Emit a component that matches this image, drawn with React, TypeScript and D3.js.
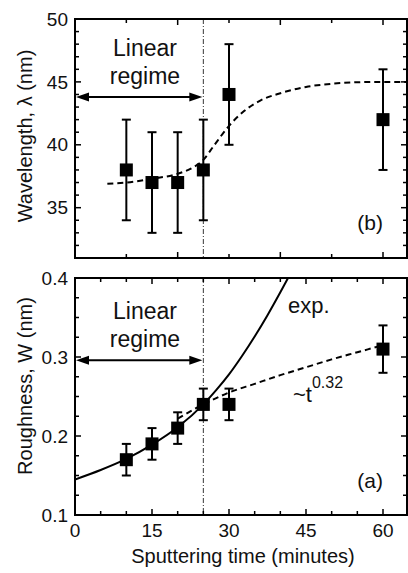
import React from 'react';
import * as d3 from 'd3';

// measured points (sputtering time, minutes)
const times = [10, 15, 20, 25, 30, 60];

// panel (b): wavelength
const wavelength = [38, 37, 37, 38, 44, 42];
const wavelengthLo = [34, 33, 33, 34, 40, 38];
const wavelengthHi = [42, 41, 41, 42, 48, 46];

// panel (a): roughness
const roughness = [0.17, 0.19, 0.21, 0.24, 0.24, 0.31];
const roughnessLo = [0.15, 0.17, 0.19, 0.22, 0.22, 0.28];
const roughnessHi = [0.19, 0.21, 0.23, 0.26, 0.26, 0.34];

// guide curves
const sigT = [6.3, 10, 15, 20, 23, 25, 27, 30, 33, 36, 40, 45, 50, 55, 60, 65];
const sigL = [36.9, 37.0, 37.3, 37.7, 38.2, 38.8, 39.9, 41.5, 42.7, 43.5, 44.1, 44.6, 44.85, 44.97, 45, 45];

const expT = [0, 5, 10, 15, 20, 25, 27.5, 30, 32.5, 35, 37.5, 40, 41.5];
const expW = [0.145, 0.157, 0.171, 0.189, 0.211, 0.24, 0.258, 0.278, 0.301, 0.326, 0.353, 0.382, 0.4];

const powT = [20, 25, 30, 35, 40, 45, 50, 55, 60];
const powW = [0.222, 0.24, 0.255, 0.266, 0.277, 0.287, 0.297, 0.306, 0.315];

const xTickLabels = [0, 15, 30, 45, 60];
const topYTickLabels = [35, 40, 45, 50];
const botYTickLabels = [0.1, 0.2, 0.3, 0.4];

const FONT = '"Liberation Sans", Arial, sans-serif';

export default function App() {
  const W = 408, H = 573;
  const left = 75, right = 407;
  const top1 = 19, bot1 = 258;
  const top2 = 278, bot2 = 515;

  const x = d3.scaleLinear().domain([0, 65]).range([left, left + 65 * (308 / 60)]);
  const yTop = d3.scaleLinear().domain([31, 50]).range([bot1, top1]);
  const yBot = d3.scaleLinear().domain([0.1, 0.4]).range([bot2, top2]);

  const line = d3.line<[number, number]>().curve(d3.curveMonotoneX);
  const sigPath = line(sigT.map((t, i) => [x(t), yTop(sigL[i])]));
  const expPath = line(expT.map((t, i) => [x(t), yBot(expW[i])]));
  const powPath = line(powT.map((t, i) => [x(t), yBot(powW[i])]));

  const frame = (y0: number, y1: number) => (
    <rect x={left} y={y0} width={right - left} height={y1 - y0} fill="none" stroke="#000" strokeWidth={2} />
  );

  const xTicks = (y0: number, y1: number, vals: number[], majorEvery: number) =>
    vals.map(v => {
      const len = v % majorEvery === 0 ? 6 : 4;
      const px = x(v);
      return (
        <g key={`xt${y0}-${v}`}>
          <line x1={px} x2={px} y1={y1} y2={y1 - len} stroke="#000" strokeWidth={1.5} />
          <line x1={px} x2={px} y1={y0} y2={y0 + len} stroke="#000" strokeWidth={1.5} />
        </g>
      );
    });

  const yTicks = (scale: d3.ScaleLinear<number, number>, vals: number[], isMajor: (v: number) => boolean) =>
    vals.map(v => {
      const len = isMajor(v) ? 6 : 4;
      const py = scale(v);
      return (
        <g key={`yt${v}`}>
          <line x1={left} x2={left + len} y1={py} y2={py} stroke="#000" strokeWidth={1.5} />
          <line x1={right} x2={right - len} y1={py} y2={py} stroke="#000" strokeWidth={1.5} />
        </g>
      );
    });

  const errorBars = (scale: d3.ScaleLinear<number, number>, vals: number[], lo: number[], hi: number[]) =>
    times.map((t, i) => {
      const px = x(t);
      return (
        <g key={`eb${t}`}>
          <line x1={px} x2={px} y1={scale(lo[i])} y2={scale(hi[i])} stroke="#000" strokeWidth={2} />
          <line x1={px - 4.5} x2={px + 4.5} y1={scale(lo[i])} y2={scale(lo[i])} stroke="#000" strokeWidth={2} />
          <line x1={px - 4.5} x2={px + 4.5} y1={scale(hi[i])} y2={scale(hi[i])} stroke="#000" strokeWidth={2} />
          <rect x={px - 6.5} y={scale(vals[i]) - 6.5} width={13} height={13} fill="#000" />
        </g>
      );
    });

  const arrow = (y: number) => {
    const x0 = left + 1, x1 = x(25) - 1;
    return (
      <g>
        <line x1={x0 + 10} x2={x1 - 10} y1={y} y2={y} stroke="#000" strokeWidth={2} />
        <path d={`M${x0},${y} L${x0 + 13},${y - 4.5} L${x0 + 13},${y + 4.5} Z`} fill="#000" />
        <path d={`M${x1},${y} L${x1 - 13},${y - 4.5} L${x1 - 13},${y + 4.5} Z`} fill="#000" />
      </g>
    );
  };

  const topXTicks = d3.range(0, 65, 10);
  const botXTicks = d3.range(0, 65, 5);
  const topYMinor = d3.range(32, 50.5, 1);
  const botYMinor = d3.range(0, 13).map(i => +(0.1 + i * 0.025).toFixed(3));

  return (
    <svg width={W} height={H} style={{ position: 'absolute', left: 0, top: 0, background: '#fff' }}
      fontFamily={FONT} fill="#111">
      <defs>
        <clipPath id="clipBot">
          <rect x={left} y={top2} width={right - left} height={bot2 - top2} />
        </clipPath>
        <clipPath id="clipTop">
          <rect x={left} y={top1} width={right - left} height={bot1 - top1} />
        </clipPath>
      </defs>

      {/* panel (b) */}
      <line x1={x(25)} x2={x(25)} y1={top1} y2={bot1} stroke="#000" strokeWidth={0.8} strokeDasharray="5,2,1,2" />
      <path d={sigPath ?? ''} fill="none" stroke="#000" strokeWidth={2} strokeDasharray="6,4" clipPath="url(#clipTop)" />
      {errorBars(yTop, wavelength, wavelengthLo, wavelengthHi)}
      {arrow(yTop(43.8))}
      {frame(top1, bot1)}
      {xTicks(top1, bot1, topXTicks, 20)}
      {yTicks(yTop, topYMinor, v => v % 5 === 0)}
      {topYTickLabels.map(v => (
        <text key={`tl${v}`} x={68} y={yTop(v)} dy="0.35em" textAnchor="end" fontSize={19}>{v}</text>
      ))}
      <text x={145} y={56} textAnchor="middle" fontSize={23}>Linear</text>
      <text x={145} y={84} textAnchor="middle" fontSize={23}>regime</text>
      <text x={383} y={230} textAnchor="end" fontSize={21}>(b)</text>
      <text transform="translate(32,136) rotate(-90)" textAnchor="middle" fontSize={20}>Wavelength, λ (nm)</text>

      {/* panel (a) */}
      <line x1={x(25)} x2={x(25)} y1={top2} y2={bot2} stroke="#000" strokeWidth={0.8} strokeDasharray="5,2,1,2" />
      <path d={powPath ?? ''} fill="none" stroke="#000" strokeWidth={2} strokeDasharray="6,4" clipPath="url(#clipBot)" />
      <path d={expPath ?? ''} fill="none" stroke="#000" strokeWidth={2} clipPath="url(#clipBot)" />
      {errorBars(yBot, roughness, roughnessLo, roughnessHi)}
      {arrow(yBot(0.296))}
      {frame(top2, bot2)}
      {xTicks(top2, bot2, botXTicks, 15)}
      {yTicks(yBot, botYMinor, v => Math.abs(v * 10 - Math.round(v * 10)) < 1e-6)}
      {botYTickLabels.map(v => (
        <text key={`bl${v}`} x={68} y={yBot(v)} dy="0.35em" textAnchor="end" fontSize={19}>{v.toFixed(1)}</text>
      ))}
      {xTickLabels.map(v => (
        <text key={`xl${v}`} x={x(v)} y={537} textAnchor="middle" fontSize={19}>{v}</text>
      ))}
      <text x={145} y={319} textAnchor="middle" fontSize={23}>Linear</text>
      <text x={145} y={347} textAnchor="middle" fontSize={23}>regime</text>
      <text x={288} y={313} fontSize={22}>exp.</text>
      <text x={293} y={402} fontSize={22}>~t<tspan dy={-14} fontSize={16}>0.32</tspan></text>
      <text x={383} y={488} textAnchor="end" fontSize={21}>(a)</text>
      <text transform="translate(32,386) rotate(-90)" textAnchor="middle" fontSize={20}>Roughness, W (nm)</text>
      <text x={243} y={563} textAnchor="middle" fontSize={20}>Sputtering time (minutes)</text>
    </svg>
  );
}
